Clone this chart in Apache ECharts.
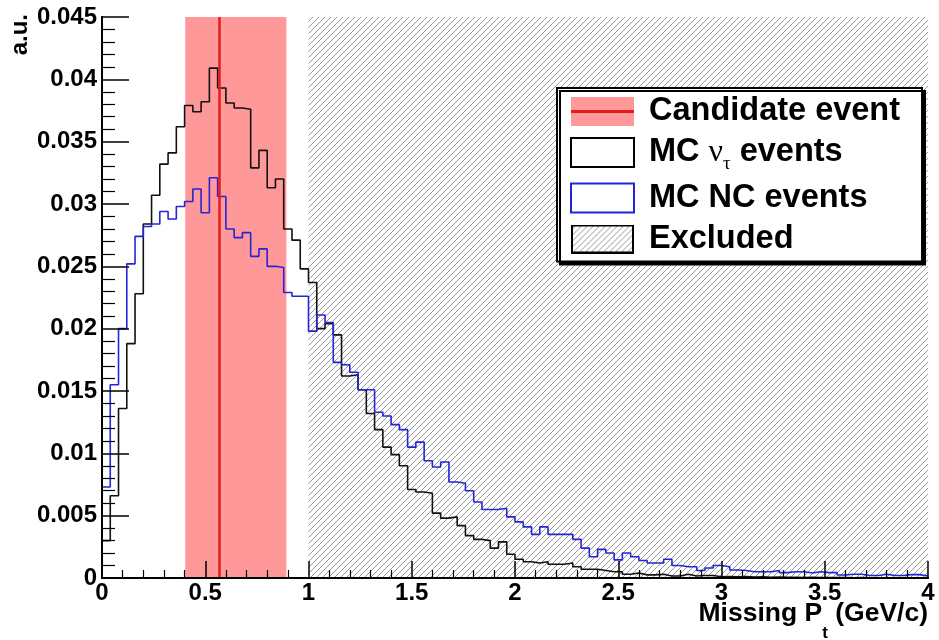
<!DOCTYPE html>
<html>
<head>
<meta charset="utf-8">
<title>Missing Pt</title>
<script src="https://cdn.jsdelivr.net/npm/echarts@6/dist/echarts.min.js"></script>
<style>
  html, body { margin: 0; padding: 0; background: #fff; }
  #chart { width: 939px; height: 640px; }
</style>
</head>
<body>
<div id="chart"></div>
<script>
// 100 bins of 0.04 GeV/c between 0 and 4
const binWidth = 0.04;
const xMin = 0;
const xMax = 4;
const yMax = 0.045;

// MC nu_tau events (black)
const mcTau = [
  0.0030, 0.0066, 0.0136, 0.0188, 0.0228, 0.0284, 0.0307, 0.0332, 0.0341, 0.0362,
  0.0379, 0.0374, 0.0382, 0.0409, 0.0393, 0.0381, 0.0377, 0.0376, 0.0329, 0.0343,
  0.0313, 0.0320, 0.0280, 0.0271, 0.0248, 0.0237, 0.0200, 0.0204, 0.0195, 0.0162,
  0.0163, 0.0151, 0.0132, 0.0119, 0.0105, 0.0099, 0.0090, 0.0071, 0.0069, 0.0068,
  0.0052, 0.0048, 0.0049, 0.0042, 0.0034, 0.0031, 0.0030, 0.0024, 0.0029, 0.0019,
  0.0015, 0.0013, 0.0012, 0.0013, 0.0011, 0.0011, 0.0012, 0.0009, 0.0007, 0.0007,
  0.0006, 0.0005, 0.0005, 0.0003, 0.0004, 0.00025, 0.00025, 0.0003, 0.00016, 0.00016,
  0.0003, 0.00016, 0.0002, 0.0002, 0.0001, 0.00012, 0.0001, 0.00012, 0.00008, 0.0001,
  0.00006, 0.00008, 0.00005, 0.00006, 0.00004, 0.00005, 0.00004, 0.00003, 0.00004, 0.00003,
  0.00002, 0.00003, 0.00002, 0.00002, 0.00001, 0.00002, 0.00001, 0.00001, 0.00001, 0.00001
];

// MC NC events (blue)
const mcNC = [
  0.0073, 0.0155, 0.0200, 0.0252, 0.0274, 0.0282, 0.0284, 0.0294, 0.0288, 0.0298,
  0.0302, 0.0312, 0.0293, 0.0321, 0.0306, 0.0280, 0.0273, 0.0277, 0.0258, 0.0264,
  0.0250, 0.0249, 0.0229, 0.0226, 0.0226, 0.0198, 0.0211, 0.0205, 0.0173, 0.0171,
  0.0165, 0.0151, 0.0151, 0.0133, 0.0130, 0.0123, 0.0119, 0.0105, 0.0109, 0.0094,
  0.0089, 0.0093, 0.0077, 0.0076, 0.0070, 0.0061, 0.0055, 0.0055, 0.0056, 0.0049,
  0.0045, 0.0041, 0.0035, 0.0041, 0.0035, 0.0035, 0.0035, 0.0031, 0.0024, 0.0017,
  0.0023, 0.0020, 0.00145, 0.0020, 0.0017, 0.0014, 0.0012, 0.0012, 0.0015, 0.0010,
  0.0009, 0.0009, 0.0006, 0.0008, 0.0010, 0.0009, 0.00064, 0.0006, 0.0005, 0.0005,
  0.0005, 0.0006, 0.00043, 0.0005, 0.0005, 0.0004, 0.0005, 0.00043, 0.00043, 0.00024,
  0.0003, 0.0003, 0.0002, 0.0002, 0.0003, 0.0002, 0.0002, 0.00027, 0.00027, 0.00016
];

const candidateValue = 0.572;
const candidateBand = [0.403, 0.893];
const excludedRange = [1, 4];

const nameCandidate = 'Candidate event';
const nameTau = 'MC ντ events';
const nameNC = 'MC NC events';
const nameExcluded = 'Excluded';

const pink = '#ff9898';
const red = '#e41c1c';
const blue = '#2424d8';
const black = '#111111';
const labelFont = 'Liberation Sans, Arial, Helvetica, sans-serif';
const greekFont = 'Liberation Serif, DejaVu Serif, serif';

// hatch pattern for excluded region
function makeHatch() {
  const c = document.createElement('canvas');
  c.width = 6; c.height = 6;
  const ctx = c.getContext('2d');
  ctx.strokeStyle = '#9a9a9a';
  ctx.lineWidth = 1;
  ctx.beginPath();
  ctx.moveTo(0, 6); ctx.lineTo(6, 0);
  ctx.moveTo(-1, 1); ctx.lineTo(1, -1);
  ctx.moveTo(5, 7); ctx.lineTo(7, 5);
  ctx.stroke();
  return c;
}
const hatch = makeHatch();

function legendIcon(draw) {
  const c = document.createElement('canvas');
  c.width = 63; c.height = 29;
  draw(c.getContext('2d'), c.width, c.height);
  return 'image://' + c.toDataURL();
}
const candidateIcon = legendIcon((ctx, w, h) => {
  ctx.fillStyle = pink;
  ctx.fillRect(0, 0, w, h);
  ctx.fillStyle = red;
  ctx.fillRect(0, h / 2 - 1.5, w, 3);
});
const excludedIcon = legendIcon((ctx, w, h) => {
  ctx.fillStyle = '#fff';
  ctx.fillRect(0, 0, w, h);
  ctx.fillStyle = ctx.createPattern(hatch, 'repeat');
  ctx.fillRect(0, 0, w, h);
  ctx.strokeStyle = '#000';
  ctx.lineWidth = 2;
  ctx.strokeRect(1, 1, w - 2, h - 2);
});

// histogram outline: a point at each bin's low edge, plus the upper edge of the last bin
const toSteps = arr => arr.map((v, i) => [+(xMin + i * binWidth).toFixed(2), v])
  .concat([[xMax, arr[arr.length - 1]]]);

const chart = echarts.init(document.getElementById('chart'));

const frameAxis = {
  min: 0, axisLine: { show: true, lineStyle: { color: '#000', width: 2 } },
  axisTick: { show: false }, axisLabel: { show: false }, splitLine: { show: false }, z: 5
};

const option = {
  animation: false,
  backgroundColor: '#fff',
  grid: { left: 102, right: 11, top: 17, bottom: 62, show: true, backgroundColor: '#fff', borderWidth: 0 },
  xAxis: [{
    type: 'value', min: xMin, max: xMax, interval: 0.5,
    z: 5,
    axisLine: { lineStyle: { color: '#000', width: 2 } },
    axisTick: { inside: true, length: 17, lineStyle: { color: '#000', width: 1.5 } },
    minorTick: { show: true, splitNumber: 5, length: 8, lineStyle: { color: '#000', width: 1.2 } },
    axisLabel: { color: '#000', fontFamily: labelFont, fontWeight: 'bold', fontSize: 24, margin: 3 },
    splitLine: { show: false }
  }, Object.assign({ type: 'value', position: 'top', max: xMax }, frameAxis)],
  yAxis: [{
    type: 'value', min: 0, max: yMax, interval: 0.005,
    z: 5,
    axisLine: { show: true, lineStyle: { color: '#000', width: 2 } },
    axisTick: { show: true, inside: true, length: 27, lineStyle: { color: '#000', width: 1.5 } },
    minorTick: { show: true, splitNumber: 5, length: 13, lineStyle: { color: '#000', width: 1.2 } },
    axisLabel: { color: '#000', fontFamily: labelFont, fontWeight: 'bold', fontSize: 24, margin: 5 },
    splitLine: { show: false }
  }, Object.assign({ type: 'value', position: 'right', max: yMax }, frameAxis)],
  legend: {
    orient: 'vertical', left: 557, top: 88,
    itemWidth: 63, itemHeight: 29, itemGap: 8,
    padding: [7, 22, 6, 13],
    backgroundColor: '#fff', borderColor: '#000', borderWidth: 2,
    shadowColor: '#000', shadowOffsetX: 3, shadowOffsetY: 3, shadowBlur: 0,
    selectedMode: false,
    data: [
      { name: nameCandidate, icon: candidateIcon },
      { name: nameTau, icon: 'rect', itemStyle: { color: '#fff', borderColor: '#000', borderWidth: 2 } },
      { name: nameNC, icon: 'rect', itemStyle: { color: '#fff', borderColor: blue, borderWidth: 2 } },
      { name: nameExcluded, icon: excludedIcon }
    ],
    formatter: name => name === nameTau ? '{t|MC }{nu|ν}{sub|τ}{t| events}' : '{t|' + name + '}',
    textStyle: {
      color: '#000', fontFamily: labelFont, fontWeight: 'bold', fontSize: 32.5,
      padding: [0, 0, 0, 10],
      rich: {
        t: { fontFamily: labelFont, fontWeight: 'bold', fontSize: 32.5, lineHeight: 42, color: '#000' },
        nu: { fontFamily: greekFont, fontWeight: 'normal', fontSize: 32, lineHeight: 42, color: '#000' },
        sub: { fontFamily: greekFont, fontWeight: 'normal', fontSize: 19, lineHeight: 42, verticalAlign: 'bottom', color: '#000' }
      }
    }
  },
  graphic: [
    {
      type: 'text', right: 11, top: 600, z: 10,
      style: {
        text: '{a|Missing P}{s|t}{a| (GeV/c)}',
        fill: '#000',
        rich: {
          a: { fontFamily: labelFont, fontWeight: 'bold', fontSize: 26.5, lineHeight: 42, verticalAlign: 'top' },
          s: { fontFamily: labelFont, fontWeight: 'bold', fontSize: 17, lineHeight: 42, verticalAlign: 'bottom' }
        }
      }
    },
    {
      type: 'text', x: 20, y: 14, rotation: Math.PI / 2, z: 10,
      style: { text: 'a.u.', fill: '#000', font: 'bold 24px ' + labelFont, align: 'right', verticalAlign: 'middle' }
    }
  ],
  series: [
    {
      name: nameCandidate, type: 'line', data: [], z: 1, silent: true,
      itemStyle: { color: pink },
      markArea: {
        silent: true,
        itemStyle: { color: pink },
        label: { show: false },
        data: [[{ xAxis: candidateBand[0] }, { xAxis: candidateBand[1] }]]
      },
      markLine: {
        silent: true, symbol: 'none',
        label: { show: false },
        lineStyle: { color: red, width: 2.5, type: 'solid' },
        data: [{ xAxis: candidateValue }]
      }
    },
    {
      name: nameExcluded, type: 'line', data: [], z: 1, silent: true,
      itemStyle: { color: '#888' },
      markArea: {
        silent: true,
        itemStyle: { color: { image: hatch, repeat: 'repeat' } },
        label: { show: false },
        data: [[{ xAxis: excludedRange[0] }, { xAxis: excludedRange[1] }]]
      }
    },
    {
      name: nameTau, type: 'line', step: 'end', symbol: 'none', z: 3,
      itemStyle: { color: black },
      lineStyle: { color: black, width: 1.6 },
      data: toSteps(mcTau)
    },
    {
      name: nameNC, type: 'line', step: 'end', symbol: 'none', z: 4,
      itemStyle: { color: blue },
      lineStyle: { color: blue, width: 1.6 },
      data: toSteps(mcNC)
    }
  ]
};

chart.setOption(option);
</script>
</body>
</html>
